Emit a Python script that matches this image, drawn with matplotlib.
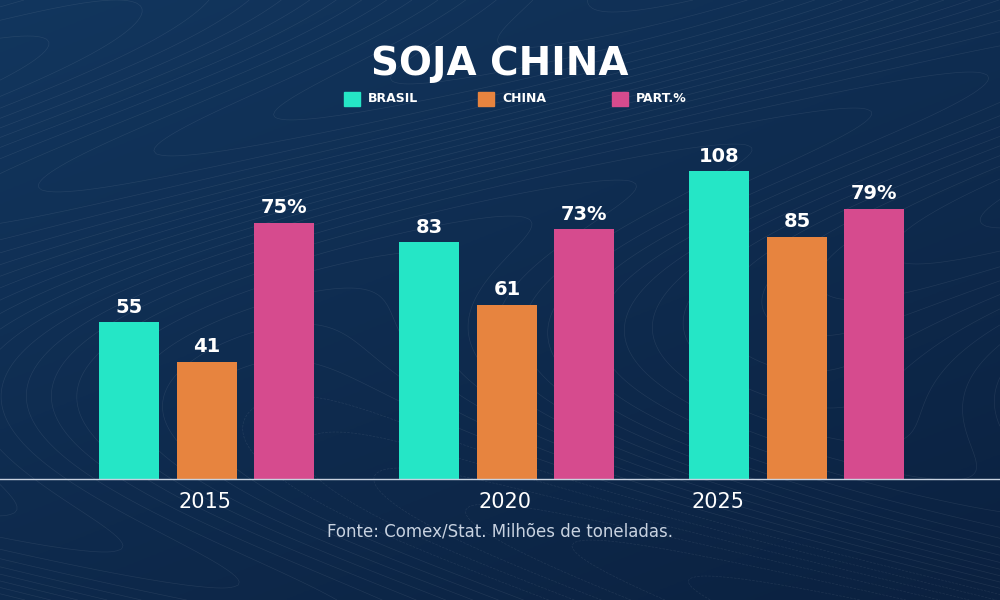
import numpy as np
import matplotlib.pyplot as plt

anos = ["2015", "2020", "2025"]
brasil = [55, 83, 108]
china = [41, 61, 85]
part = [75, 73, 79]   # %

centros = [207, 507, 797]
ano_x = [205, 505, 718]
escala_part = 1.2   # altura visual da barra de participação

fig = plt.figure(figsize=(10, 6), dpi=100)

# fundo em degradê com linhas onduladas
bg = fig.add_axes([0, 0, 1, 1])
xx, yy = np.meshgrid(np.linspace(0, 1, 300), np.linspace(0, 1, 200))
grad = 0.6 * yy + 0.4 * (1 - xx)
bg.imshow(grad, extent=[0, 1, 0, 1], cmap=plt.matplotlib.colors.LinearSegmentedColormap.from_list(
    "fundo", ["#0b2140", "#12365e"]), aspect="auto", origin="lower")
ondas = np.sin(6 * xx + 3 * np.sin(4 * yy)) + 2.5 * yy
bg.contour(xx, yy, ondas, levels=40, colors="white", linewidths=0.5, alpha=0.08)
bg.set_xlim(0, 1)
bg.set_ylim(0, 1)
bg.axis("off")

ax = fig.add_axes([0, 121 / 600, 1, 349 / 600])
ax.set_xlim(0, 1000)
ax.set_ylim(0, 349 / 2.85)
ax.axis("off")

for i in range(3):
    c = centros[i]
    alturas = [brasil[i], china[i], part[i] * escala_part]
    textos = [str(brasil[i]), str(china[i]), f"{part[i]}%"]
    cores = ["#25e6c6", "#e7843f", "#d64b8e"]
    for k, dx in enumerate([-78, 0, 77]):
        ax.bar(c + dx, alturas[k], width=60, color=cores[k])
        ax.text(c + dx, alturas[k] + 2, textos[k], ha="center", va="bottom",
                color="white", fontsize=14, fontweight="bold")

fig.add_artist(plt.Line2D([0, 1], [121 / 600, 121 / 600], color="#c8d2e0", lw=1))

for x, a in zip(ano_x, anos):
    fig.text(x / 1000, 1 - 502 / 600, a, ha="center", va="center", color="white", fontsize=15)

fig.text(0.5, 1 - 532 / 600, "Fonte: Comex/Stat. Milhões de toneladas.", ha="center", va="center",
         color="#c8d2e0", fontsize=12)

fig.text(0.5, 1 - 64 / 600, "SOJA CHINA", ha="center", va="center", color="white",
         fontsize=28, fontweight="bold")

legenda = [("BRASIL", "#25e6c6", 344), ("CHINA", "#e7843f", 478), ("PART.%", "#d64b8e", 612)]
for nome, cor, x in legenda:
    fig.patches.append(plt.Rectangle((x / 1000, 1 - 106 / 600), 16 / 1000, 14 / 600,
                                     color=cor, transform=fig.transFigure))
    fig.text((x + 24) / 1000, 1 - 99 / 600, nome, ha="left", va="center", color="white",
             fontsize=9, fontweight="bold")

fig.savefig("out.png", dpi=100)
